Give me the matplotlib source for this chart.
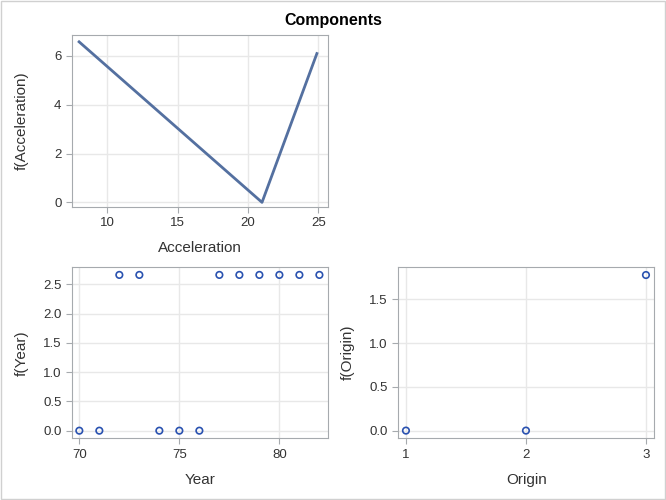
import matplotlib.pyplot as plt
from matplotlib.patches import Rectangle

plt.rcParams['font.family'] = ['Liberation Sans', 'DejaVu Sans']

# data
accel_x = [8.0, 21.0, 24.9]
accel_f = [6.58, 0.0, 6.10]

year_x = [70, 71, 72, 73, 74, 75, 76, 77, 78, 79, 80, 81, 82]
year_f = [0, 0, 2.66, 2.66, 0, 0, 0, 2.66, 2.66, 2.66, 2.66, 2.66, 2.66]

origin_x = [1, 2, 3]
origin_f = [0, 0, 1.777]

line_col = '#5470a0'
mark_col = '#2a52b0'
frame_col = '#a6aaae'
grid_col = '#e8e8e8'
text_col = '#333333'

fig = plt.figure(figsize=(6.66, 5), dpi=100)
fig.patches.append(Rectangle((0.0015, 0.002), 0.997, 0.996, transform=fig.transFigure,
                             fill=False, edgecolor='#d0d0d0', linewidth=1))
fig.text(0.5, 0.96, 'Components', ha='center', va='center', fontsize=11.5,
         fontweight='bold', color='black')


def style(ax, xlabel, ylabel, xlab_y):
    ax.grid(True, color=grid_col, linewidth=1)
    ax.set_axisbelow(True)
    for s in ax.spines.values():
        s.set_color(frame_col)
    ax.tick_params(colors=frame_col, labelcolor=text_col, labelsize=9.5, length=4)
    ax.set_xlabel(xlabel, fontsize=11, color=text_col, va='center')
    ax.set_ylabel(ylabel, fontsize=11, color=text_col, va='center')
    ax.xaxis.set_label_coords(0.5, xlab_y)
    ax.yaxis.set_label_coords(-0.196, 0.5)


ax1 = fig.add_axes([0.108, 0.586, 0.3845, 0.344])
ax1.plot(accel_x, accel_f, color=line_col, linewidth=2)
ax1.set_xlim(7.49, 25.69)
ax1.set_ylim(-0.19, 6.86)
ax1.set_xticks([10, 15, 20, 25])
ax1.set_yticks([0, 2, 4, 6])
style(ax1, 'Acceleration', 'f(Acceleration)', -0.238)

ax2 = fig.add_axes([0.108, 0.1234, 0.3845, 0.342])
ax2.scatter(year_x, year_f, s=22, facecolors='none', edgecolors=mark_col, linewidths=1.2)
ax2.set_xlim(69.63, 82.43)
ax2.set_ylim(-0.13, 2.79)
ax2.set_xticks([70, 75, 80])
ax2.set_yticks([0, 0.5, 1.0, 1.5, 2.0, 2.5])
ax2.set_yticklabels(['0.0', '0.5', '1.0', '1.5', '2.0', '2.5'])
style(ax2, 'Year', 'f(Year)', -0.244)

ax3 = fig.add_axes([0.598, 0.1234, 0.384, 0.3432])
ax3.scatter(origin_x, origin_f, s=22, facecolors='none', edgecolors=mark_col, linewidths=1.2)
ax3.set_xlim(0.936, 3.067)
ax3.set_ylim(-0.088, 1.872)
ax3.set_xticks([1, 2, 3])
ax3.set_yticks([0, 0.5, 1.0, 1.5])
ax3.set_yticklabels(['0.0', '0.5', '1.0', '1.5'])
style(ax3, 'Origin', 'f(Origin)', -0.244)

fig.savefig('out.png', dpi=100)
